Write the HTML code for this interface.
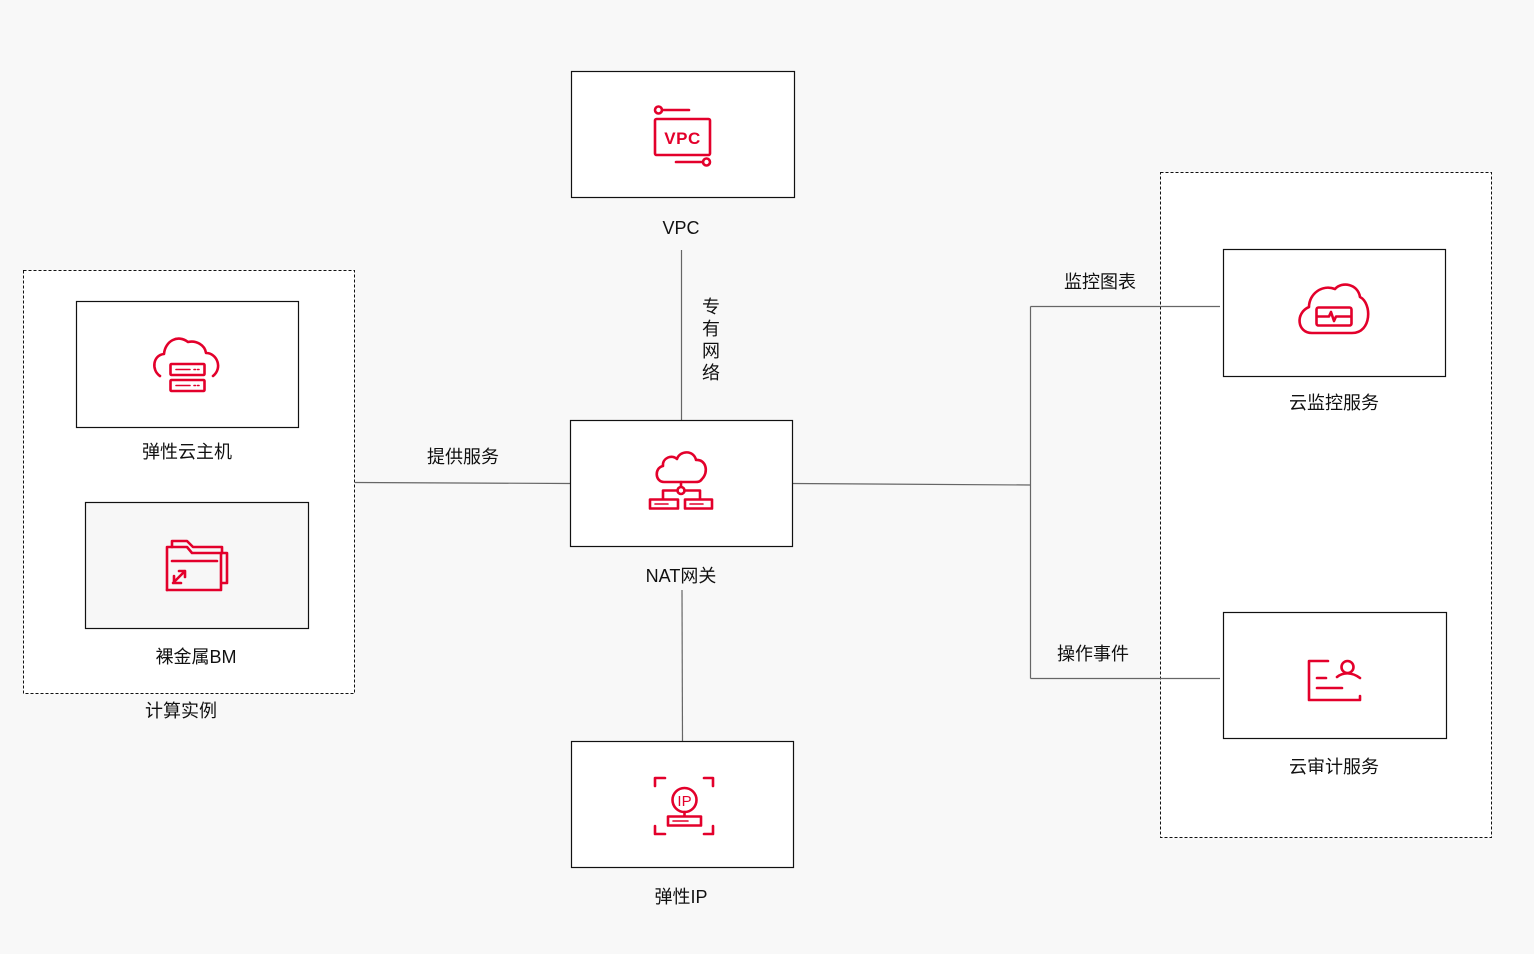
<!DOCTYPE html>
<html><head><meta charset="utf-8"><style>
html,body{margin:0;padding:0;background:#f8f8f8;}
svg{display:block;}
text{font-family:"Liberation Sans","Noto Sans CJK SC",sans-serif;font-size:18px;fill:#111;}
</style></head><body>
<svg width="1534" height="954" viewBox="0 0 1534 954" xmlns="http://www.w3.org/2000/svg">
<rect x="0" y="0" width="1534" height="954" fill="#f8f8f8"/>
<!-- containers -->
<rect x="23.5" y="270.5" width="331" height="423" fill="#fff" stroke="#111" stroke-dasharray="3,2"/>
<rect x="1160.5" y="172.5" width="331" height="665" fill="#fff" stroke="#111" stroke-dasharray="3,2"/>

<!-- connectors -->
<g stroke="#666" stroke-width="1.2" fill="none">
<line x1="681.5" y1="250" x2="681.5" y2="420"/>
<line x1="682" y1="590" x2="682.5" y2="741"/>
<line x1="355" y1="482.5" x2="570" y2="483.5"/>
<line x1="792" y1="483.5" x2="1030.5" y2="485"/>
<line x1="1030.5" y1="306.5" x2="1030.5" y2="678.5"/>
<line x1="1030.5" y1="306.5" x2="1220" y2="306.5"/>
<line x1="1030.5" y1="678.5" x2="1220" y2="678.5"/>
</g>

<!-- boxes -->
<g stroke="#111" stroke-width="1.2">
<rect x="76.5" y="301.5" width="222" height="126" fill="#fff"/>
<rect x="85.5" y="502.5" width="223" height="126" fill="#f7f7f7"/>
<rect x="571.5" y="71.5" width="223" height="126" fill="#fff"/>
<rect x="570.5" y="420.5" width="222" height="126" fill="#fff"/>
<rect x="571.5" y="741.5" width="222" height="126" fill="#fff"/>
<rect x="1223.5" y="249.5" width="222" height="127" fill="#fff"/>
<rect x="1223.5" y="612.5" width="223" height="126" fill="#fff"/>
</g>

<!-- icons -->
<g stroke="#e3002b" stroke-width="2.6" fill="none" stroke-linecap="round" stroke-linejoin="round">
<!-- VPC -->
<circle cx="658.5" cy="110" r="3.5"/>
<line x1="662" y1="110" x2="689" y2="110"/>
<rect x="655" y="119" width="55" height="36" rx="1.5"/>
<line x1="676" y1="162" x2="703" y2="162"/>
<circle cx="706.5" cy="162" r="3.5"/>
<!-- NAT -->
<path d="M664 482 C655 482 654 468 663 466 C662 458 672 454 677 459 C680 450 694 450 696 460 C706 459 709 472 702 479 C700 482 698 482 695 482 Z"/>
<line x1="681" y1="482" x2="681" y2="487"/>
<circle cx="681" cy="490.5" r="3.5"/>
<path d="M677.5 490.5 H663 V499 M684.5 490.5 H700 V499"/>
<rect x="650" y="499.5" width="28" height="9"/>
<rect x="685" y="499.5" width="27" height="9"/>
<line x1="655" y1="504" x2="668" y2="504" stroke-width="1.6"/>
<line x1="690" y1="504" x2="703" y2="504" stroke-width="1.6"/>
<!-- ECS -->
<path d="M160 376 C151 370 153 355 164 354 C165 341 178 334 188 342 C196 340 205 345 206 353 C217 353 223 368 213 376"/>
<rect x="170.5" y="364" width="34" height="11" rx="1"/>
<rect x="170.5" y="380" width="34" height="11" rx="1"/>
<line x1="176" y1="369.5" x2="190" y2="369.5" stroke-width="1.6"/>
<line x1="176" y1="385.5" x2="190" y2="385.5" stroke-width="1.6"/>
<line x1="194" y1="369.5" x2="199" y2="369.5" stroke-width="1.6" stroke-dasharray="1.5,2"/>
<line x1="194" y1="385.5" x2="199" y2="385.5" stroke-width="1.6" stroke-dasharray="1.5,2"/>
<!-- BM folder -->
<path d="M167 590 V547 H172 V541 H187 L193 547 H222 V553"/>
<path d="M167 590 H221 V553 M222 553 H227 V583 H221"/>
<path d="M172 547 H187 L192 553 H221"/>
<line x1="172" y1="561" x2="217" y2="561"/>
<path d="M173 583 L185 571 M174 576 V583 H181 M185 571 V577 M185 571 H179"/>
<!-- Monitor cloud -->
<path d="M1312 333 C1297 333 1295 313 1309 307 C1309 294 1322 284 1335 289 C1342 281 1358 284 1360 297 C1372 303 1372 333 1352 333 Z"/>
<rect x="1316.5" y="307.5" width="35" height="18" rx="2"/>
<path d="M1317 316.5 H1329 L1331 312 L1334 321 L1336 316.5 H1351"/>
<!-- Audit -->
<path d="M1328 661 H1309 V700 H1360 V696"/>
<line x1="1317" y1="678" x2="1326" y2="678"/>
<line x1="1317" y1="688" x2="1342" y2="688"/>
<circle cx="1347.5" cy="667" r="6"/>
<path d="M1337 677 C1343 672 1352 672 1360 678"/>
<!-- IP -->
<path d="M655 786 V778 H665 M704 778 H713 V786 M655 826 V834 H665 M704 834 H713 V826"/>
<circle cx="684.5" cy="800" r="12"/>
<line x1="684.5" y1="812" x2="684.5" y2="816"/>
<rect x="668" y="816.5" width="33" height="9"/>
<line x1="673" y1="821" x2="688" y2="821" stroke-width="1.6"/>
</g>
<text x="682.5" y="144" text-anchor="middle" style="font-size:17px;font-weight:bold;fill:#e3002b;letter-spacing:0.5px">VPC</text>
<text x="684.5" y="806" text-anchor="middle" style="font-size:15px;fill:#e3002b">IP</text>

<!-- labels -->
<text x="187" y="458" text-anchor="middle">弹性云主机</text>
<text x="196" y="663" text-anchor="middle">裸金属BM</text>
<text x="181" y="717" text-anchor="middle">计算实例</text>
<text x="681" y="234" text-anchor="middle">VPC</text>
<text x="681" y="582" text-anchor="middle">NAT网关</text>
<text x="681" y="903" text-anchor="middle">弹性IP</text>
<text x="1334" y="409" text-anchor="middle">云监控服务</text>
<text x="1334" y="773" text-anchor="middle">云审计服务</text>
<text x="463" y="463" text-anchor="middle">提供服务</text>
<text x="1100" y="288" text-anchor="middle">监控图表</text>
<text x="1093" y="660" text-anchor="middle">操作事件</text>
<text x="711" y="313" text-anchor="middle">专</text>
<text x="711" y="335" text-anchor="middle">有</text>
<text x="711" y="357" text-anchor="middle">网</text>
<text x="711" y="379" text-anchor="middle">络</text>
</svg>
</body></html>
